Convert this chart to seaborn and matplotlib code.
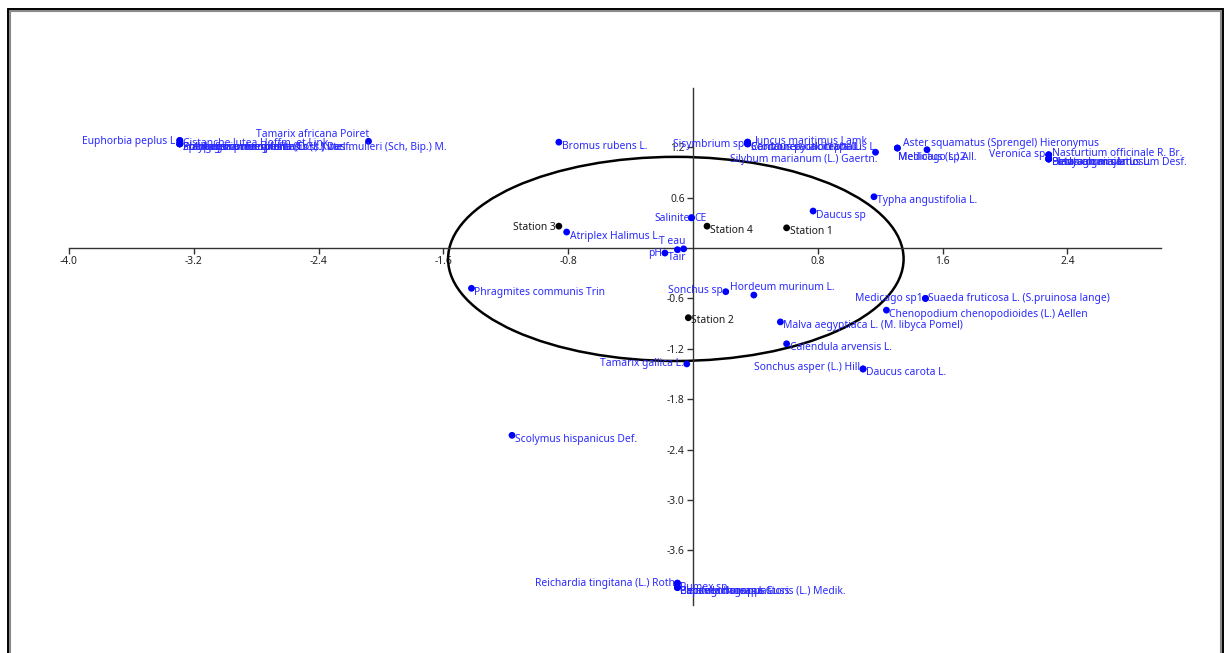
import matplotlib
matplotlib.use("Agg")
import matplotlib.pyplot as plt
from matplotlib.patches import Ellipse
from matplotlib.lines import Line2D
import seaborn as sns
import pandas as pd

# ---- data -----------------------------------------------------------------
species = [
    "Euphorbia peplus L.", "Cistanche lutea Hoffm. et Link",
    "Zollikoferia resedifolia (Coss.) var. mulleri (Sch, Bip.) M.",
    "Frankenia pulverulenta L.", "Spergularia marginata (DC.) Kittel",
    "Polypogon monspeliensis (L.) Desf.", "Plantago coronopus L.",
    "Tamarix africana Poiret", "Bromus rubens L.",
    "Sisymbrium sp", "Juncus maritimus Lamk",
    "Centaurea calcitrapa L.", "Scorzonera laciniata L.", "Carduus pycnocephalus L.",
    "Silybum marianum (L.) Gaertn.",
    "Aster squamatus (Sprengel) Hieronymus", "Medicago sp2", "Melilotus (L.) All.",
    "Veronica sp", "Nasturtium officinale R. Br.",
    "Hedysarum carnosum Desf.", "Lotus corniculatus L.", "Plantago major L.", "Beta vulgaris L.",
    "Typha angustifolia L.", "Daucus sp",
    "Salinite", "CE", "Atriplex Halimus L.",
    "T eau", "Tair", "pH",
    "Phragmites communis Trin", "Sonchus sp", "Hordeum murinum L.",
    "Medicago sp1", "Suaeda fruticosa L. (S.pruinosa lange)",
    "Chenopodium chenopodioides (L.) Aellen",
    "Malva aegyptiaca L. (M. libyca Pomel)", "Calendula arvensis L.",
    "Tamarix gallica L.", "Sonchus asper (L.) Hill", "Daucus carota L.",
    "Scolymus hispanicus Def.",
    "Reichardia tingitana (L.) Roth", "Rumex sp",
    "Capsella bursa-pastoris (L.) Medik.", "Plantago lagopus L.",
    "Beta macrocarpa Guss.", "Papaver rhoeas L.",
]
species_x = [
    -3.29, -3.29, -3.29, -3.29, -3.29, -3.29, -3.29,
    -2.08, -0.86,
    0.35, 0.35, 0.35, 0.35, 0.35,
    1.17,
    1.31, 1.31, 1.50,
    2.28, 2.28, 2.28, 2.28, 2.28, 2.28,
    1.16, 0.77,
    -0.01, -0.01, -0.81,
    -0.06, -0.10, -0.18,
    -1.42, 0.21, 0.39,
    1.49, 1.49,
    1.24,
    0.56, 0.60,
    -0.04, 1.09, 1.09,
    -1.16,
    -0.10, -0.10, -0.10, -0.10, -0.10, -0.10,
]
species_y = [
    1.28, 1.28, 1.24, 1.24, 1.24, 1.24, 1.24,
    1.27, 1.26,
    1.26, 1.26, 1.24, 1.24, 1.24,
    1.14,
    1.19, 1.19, 1.17,
    1.11, 1.11, 1.06, 1.06, 1.06, 1.06,
    0.61, 0.44,
    0.36, 0.36, 0.19,
    -0.01, -0.02, -0.06,
    -0.48, -0.52, -0.56,
    -0.60, -0.60,
    -0.74,
    -0.88, -1.14,
    -1.38, -1.44, -1.44,
    -2.23,
    -3.99, -3.99, -4.04, -4.04, -4.04, -4.04,
]

stations = ["Station 1", "Station 2", "Station 3", "Station 4"]
station_x = [0.60, -0.03, -0.86, 0.09]
station_y = [0.24, -0.83, 0.26, 0.26]

x_ticks = [-4.0, -3.2, -2.4, -1.6, -0.8, 0.8, 1.6, 2.4]
y_ticks = [1.2, 0.6, -0.6, -1.2, -1.8, -2.4, -3.0, -3.6]

# ---- label placement (pixel offsets, alignment) ----------------------------
default_place = (3, -4, "left")
place = {
    "Euphorbia peplus L.": (-2, -1, "right"),
    "Cistanche lutea Hoffm. et Link": (3, -3, "left"),
    "Tamarix africana Poiret": (1, 7, "right"),
    "Sisymbrium sp": (-3, -2, "right"),
    "Juncus maritimus Lamk": (7, 2, "left"),
    "Silybum marianum (L.) Gaertn.": (2, -7, "right"),
    "Aster squamatus (Sprengel) Hieronymus": (6, 5, "left"),
    "Medicago sp2": (1, -9, "left"),
    "Melilotus (L.) All.": (-29, -7, "left"),
    "Veronica sp": (-3, 0, "right"),
    "Nasturtium officinale R. Br.": (3, 1, "left"),
    "Salinite": (-2, -1, "right"),
    "CE": (3, -1, "left"),
    "T eau": (2, 7, "right"),
    "Tair": (0, -8, "center"),
    "pH": (-3, 0, "right"),
    "Sonchus sp": (-3, 1, "right"),
    "Hordeum murinum L.": (-24, 8, "left"),
    "Medicago sp1": (-3, 0, "right"),
    "Suaeda fruticosa L. (S.pruinosa lange)": (3, 0, "left"),
    "Tamarix gallica L.": (-3, 0, "right"),
    "Sonchus asper (L.) Hill": (-3, 1, "right"),
    "Reichardia tingitana (L.) Roth": (-3, 0, "right"),
    "Station 3": (-3, -1, "right"),
    "Station 2": (3, -3, "left"),
}

BLUE = "#0000ff"
LABEL_BLUE = "#2a2aff"
INK = "#1a1a1a"
FS = 7.4

df = pd.concat([
    pd.DataFrame({"name": species, "x": species_x, "y": species_y, "kind": "espece"}),
    pd.DataFrame({"name": stations, "x": station_x, "y": station_y, "kind": "station"}),
], ignore_index=True)

sns.set_theme(style="white")
plt.rcParams["font.family"] = ["Noto Sans", "DejaVu Sans"]

W, H, DPI = 1229, 653, 100
fig = plt.figure(figsize=(W / DPI, H / DPI), dpi=DPI)
fig.patch.set_facecolor("white")
ax = fig.add_axes([0, 0, 1, 1])
ax.set_facecolor("none")

# data limits so that the origin sits at (693, 248) px
x0_px, y0_px, sx, sy = 693, 248, 156.0, 84.0
ax.set_xlim(-x0_px / sx, (W - x0_px) / sx)
ax.set_ylim((y0_px - H) / sy, y0_px / sy)

# confidence ellipse
ax.add_patch(Ellipse((-0.11, -0.13), 2.92, 2.43, fill=False, ec="black", lw=1.8, zorder=2))

sns.scatterplot(data=df, x="x", y="y", hue="kind",
                palette={"espece": BLUE, "station": "black"},
                s=24, linewidth=0, legend=False, ax=ax, zorder=4)

for name, xv, yv, kind in zip(df["name"], df["x"], df["y"], df["kind"]):
    dx, dy, ha = place.get(name, default_place)
    ax.annotate(name, (xv, yv), xytext=(dx, dy), textcoords="offset pixels",
                ha=ha, va="center", fontsize=FS,
                color=LABEL_BLUE if kind == "espece" else INK, zorder=5)

# axes crossing at the origin
for side in ("top", "right"):
    ax.spines[side].set_visible(False)
for side in ("left", "bottom"):
    ax.spines[side].set_position(("data", 0))
    ax.spines[side].set_color("#333333")
    ax.spines[side].set_linewidth(1.0)
    ax.spines[side].set_visible(True)
ax.spines["bottom"].set_bounds(-4.0, 3.0)
ax.spines["left"].set_bounds(-4.25, 1.9)

ax.set_xticks(x_ticks)
ax.set_xticklabels([f"{v:.1f}" for v in x_ticks])
ax.set_yticks(y_ticks)
ax.set_yticklabels([f"{v:.1f}" for v in y_ticks])
ax.tick_params(axis="both", direction="out", length=4, width=1, color="#333333",
               labelsize=FS, labelcolor="#222222", pad=2)
ax.tick_params(axis="x", bottom=True)
ax.tick_params(axis="y", left=True)
ax.set_xlabel("")
ax.set_ylabel("")
ax.grid(False)

# window frame: dark outer edge with a grey inner line
def px(xp, yp):
    return xp / W, 1 - yp / H

frame = [((7.5, 8.5), (1222.5, 8.5)), ((7.5, 8.5), (7.5, H + 5)), ((1222.5, 8.5), (1222.5, H + 5))]
inner = [((9.5, 10.5), (1220.5, 10.5)), ((9.5, 10.5), (9.5, H + 5)), ((1220.5, 10.5), (1220.5, H + 5))]
for (a, b) in inner:
    (xa, ya), (xb, yb) = px(*a), px(*b)
    fig.add_artist(Line2D([xa, xb], [ya, yb], transform=fig.transFigure, color="#8a8a8a", lw=1.5))
for (a, b) in frame:
    (xa, ya), (xb, yb) = px(*a), px(*b)
    fig.add_artist(Line2D([xa, xb], [ya, yb], transform=fig.transFigure, color="black", lw=1.4))

fig.savefig("out.png", dpi=DPI)
